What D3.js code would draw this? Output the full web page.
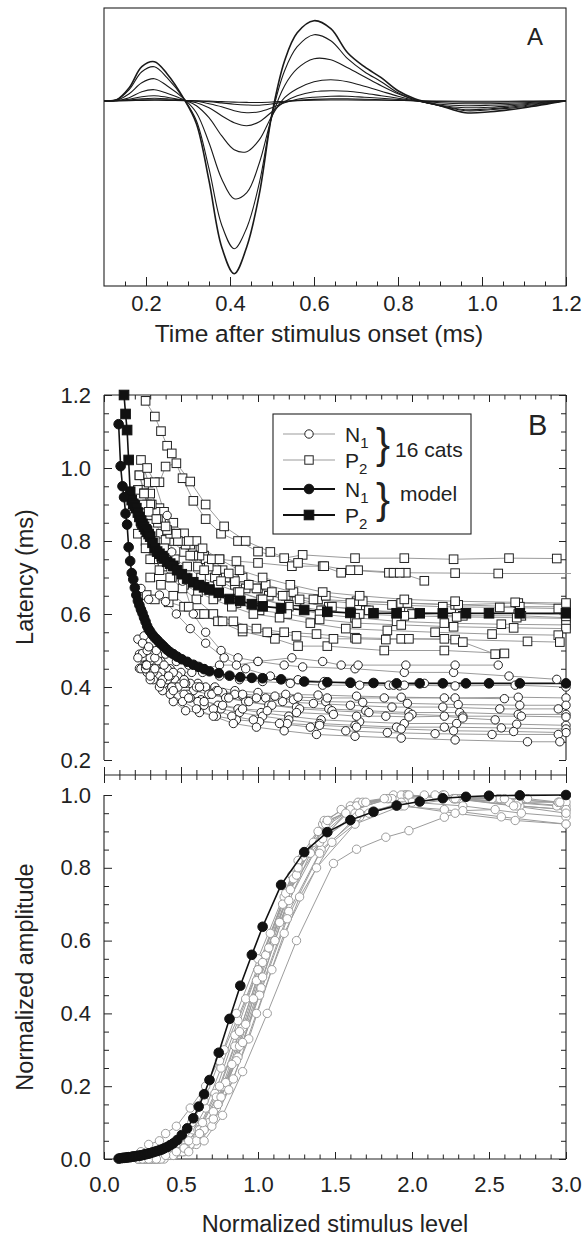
<!DOCTYPE html>
<html>
<head>
<meta charset="utf-8">
<script src="https://cdnjs.cloudflare.com/ajax/libs/d3/7.8.5/d3.min.js"></script>
<style>
  body { margin: 0; background: #fff; }
  svg { display: block; }
  text { font-family: "Liberation Sans", Arial, sans-serif; fill: #222; }
</style>
</head>
<body>
<script>
// ---- panel A: averaged waveforms (amplitude in arbitrary units) ----
var waveTimes = [0.10, 0.13, 0.16, 0.19, 0.22, 0.25, 0.29, 0.32, 0.35, 0.38, 0.41, 0.44, 0.47, 0.50,
                 0.53, 0.56, 0.60, 0.64, 0.68, 0.72, 0.76, 0.80, 0.84, 0.90, 0.96, 1.02, 1.10, 1.20];
var waveTraces = [
  [0, 0.01, 0.13, 0.34, 0.39, 0.27, 0.02, -0.23, -0.80, -1.46, -1.73, -1.46, -0.93, -0.13, 0.40, 0.68, 0.80, 0.72, 0.48, 0.34, 0.23, 0.10, 0.02, -0.05, -0.12, -0.11, -0.07, 0],
  [0, 0.01, 0.11, 0.29, 0.34, 0.23, 0.02, -0.20, -0.68, -1.24, -1.48, -1.27, -0.82, -0.14, 0.30, 0.54, 0.66, 0.60, 0.42, 0.29, 0.19, 0.08, 0.01, -0.05, -0.10, -0.09, -0.06, 0],
  [0, 0.005, 0.07, 0.18, 0.22, 0.15, 0.02, -0.12, -0.42, -0.78, -0.98, -0.92, -0.62, -0.16, 0.15, 0.32, 0.42, 0.41, 0.33, 0.24, 0.15, 0.07, 0.01, -0.05, -0.09, -0.08, -0.05, 0],
  [0, 0, 0.03, 0.09, 0.11, 0.075, 0.01, -0.05, -0.17, -0.35, -0.49, -0.51, -0.39, -0.15, 0.03, 0.12, 0.19, 0.21, 0.19, 0.145, 0.095, 0.045, 0.005, -0.045, -0.07, -0.065, -0.04, 0],
  [0, 0, 0.015, 0.04, 0.05, 0.035, 0.005, -0.02, -0.07, -0.15, -0.22, -0.25, -0.21, -0.11, -0.01, 0.05, 0.09, 0.10, 0.095, 0.075, 0.05, 0.025, 0, -0.035, -0.05, -0.045, -0.03, 0],
  [0, 0, 0.007, 0.02, 0.025, 0.02, 0.005, -0.005, -0.03, -0.06, -0.10, -0.12, -0.11, -0.07, -0.02, 0.015, 0.035, 0.045, 0.045, 0.035, 0.025, 0.012, 0, -0.02, -0.03, -0.03, -0.02, 0],
  [0, 0, 0.003, 0.008, 0.01, 0.008, 0.002, -0.003, -0.01, -0.022, -0.035, -0.043, -0.045, -0.032, -0.012, 0.003, 0.013, 0.018, 0.018, 0.015, 0.01, 0.005, 0, -0.01, -0.015, -0.015, -0.01, 0],
  [0, 0, 0.001, 0.003, 0.004, 0.003, 0.001, -0.001, -0.004, -0.009, -0.014, -0.017, -0.018, -0.013, -0.005, 0.001, 0.005, 0.007, 0.007, 0.006, 0.004, 0.002, 0, -0.004, -0.006, -0.006, -0.004, 0]
];

// ---- panel B: model ----
var modelLevels = [0.095, 0.108, 0.12, 0.13, 0.14, 0.15, 0.16, 0.17, 0.18, 0.19, 0.2, 0.21, 0.22, 0.23, 0.24, 0.25, 0.26, 0.27, 0.28, 0.29,
                   0.3, 0.315, 0.33, 0.345, 0.36, 0.375, 0.39, 0.41, 0.43, 0.45, 0.475, 0.505, 0.54, 0.58, 0.615, 0.65, 0.685, 0.745, 0.815, 0.885,
                   0.96, 1.03, 1.15, 1.3, 1.45, 1.6, 1.75, 1.9, 2.05, 2.2, 2.35, 2.5, 2.7, 3.0];
var modelN1 = [1.12, 1.005, 0.95, 0.92, 0.875, 0.845, 0.783, 0.745, 0.712, 0.695, 0.672, 0.652, 0.636, 0.624, 0.612, 0.602, 0.59, 0.579, 0.567, 0.558,
               0.552, 0.543, 0.535, 0.529, 0.522, 0.516, 0.51, 0.502, 0.495, 0.49, 0.483, 0.476, 0.469, 0.461, 0.455, 0.449, 0.443, 0.438, 0.431, 0.427,
               0.425, 0.424, 0.421, 0.415, 0.413, 0.412, 0.411, 0.41, 0.41, 0.41, 0.41, 0.41, 0.41, 0.41];
var modelP2 = [null, null, null, 1.2, 1.148, 1.104, 1.022, 0.935, 0.912, 0.902, 0.897, 0.89, 0.878, 0.866, 0.856, 0.847, 0.839, 0.832, 0.826, 0.819,
               0.812, 0.795, 0.78, 0.771, 0.765, 0.758, 0.752, 0.743, 0.738, 0.732, 0.72, 0.709, 0.697, 0.687, 0.679, 0.673, 0.667, 0.658, 0.641, 0.636,
               0.627, 0.621, 0.616, 0.611, 0.606, 0.603, 0.602, 0.602, 0.602, 0.602, 0.602, 0.602, 0.602, 0.602];
var modelAmp = [0.001, 0.002, 0.003, 0.003, 0.004, 0.004, 0.005, 0.005, 0.006, 0.007, 0.007, 0.008, 0.009, 0.009, 0.01, 0.011, 0.012, 0.013, 0.014, 0.015,
                0.016, 0.018, 0.02, 0.022, 0.024, 0.026, 0.029, 0.033, 0.038, 0.043, 0.052, 0.066, 0.084, 0.112, 0.144, 0.178, 0.217, 0.292, 0.385, 0.476,
                0.561, 0.638, 0.753, 0.843, 0.898, 0.931, 0.954, 0.971, 0.982, 0.991, 0.995, 0.998, 0.999, 1.0];

// ---- panel B: 16 cats (one row per cat) ----
var catLevels = [
  [0.27, 0.33, 0.37, 0.41, 0.44, 0.51, 0.58, 0.66, 0.76, 0.87, 1.0, 1.17, 1.29, 1.63, 1.95, 2.27, 2.63, 2.94],
  [0.23, 0.26, 0.3, 0.36, 0.43, 0.5, 0.57, 0.65, 0.75, 0.86, 1.0, 1.22, 1.42, 1.54, 1.65, 1.96, 2.28, 2.56, 3.15],
  [0.24, 0.29, 0.36, 0.40, 0.47, 0.56, 0.66, 0.78, 0.92, 1.08, 1.26, 1.43, 1.6, 1.85, 1.88, 1.92, 2.08],
  [0.22, 0.26, 0.31, 0.37, 0.44, 0.52, 0.61, 0.72, 0.85, 1.0, 1.18, 1.39, 1.64, 1.93, 2.28, 2.69, 3.0],
  [0.25, 0.3, 0.35, 0.41, 0.48, 0.56, 0.66, 0.77, 0.9, 1.05, 1.23, 1.44, 1.68, 1.97, 2.3, 2.7, 3.0],
  [0.23, 0.28, 0.34, 0.4, 0.46, 0.53, 0.62, 0.73, 0.85, 0.99, 1.16, 1.36, 1.6, 1.87, 2.2, 2.57, 2.95],
  [0.26, 0.31, 0.37, 0.43, 0.5, 0.58, 0.68, 0.79, 0.92, 1.07, 1.25, 1.46, 1.7, 1.98, 2.31, 2.69, 3.0],
  [0.28, 0.33, 0.39, 0.45, 0.52, 0.6, 0.7, 0.81, 0.94, 1.09, 1.27, 1.48, 1.72, 2.0, 2.33, 2.71, 3.0],
  [0.24, 0.28, 0.33, 0.39, 0.46, 0.54, 0.63, 0.74, 0.87, 1.02, 1.2, 1.41, 1.66, 1.95, 2.29, 2.68, 3.0],
  [0.3, 0.35, 0.41, 0.48, 0.56, 0.65, 0.76, 0.88, 1.03, 1.2, 1.4, 1.63, 1.9, 2.21, 2.58, 3.0],
  [0.22, 0.27, 0.32, 0.38, 0.45, 0.53, 0.62, 0.73, 0.86, 1.01, 1.19, 1.4, 1.64, 1.93, 2.27, 2.66, 3.0],
  [0.27, 0.32, 0.38, 0.44, 0.52, 0.61, 0.71, 0.83, 0.97, 1.14, 1.34, 1.57, 1.84, 2.15, 2.52, 2.95],
  [0.3, 0.36, 0.43, 0.51, 0.6, 0.71, 0.84, 0.99, 1.17, 1.38, 1.63, 1.93, 2.28, 2.75, 2.96],
  [0.277, 0.33, 0.42, 0.52, 0.62, 0.74, 0.9, 1.11, 1.26, 1.45, 1.82, 2.21, 2.6],
  [0.3, 0.37, 0.45, 0.55, 0.65, 0.77, 0.9, 1.06, 1.25, 1.49, 1.64, 1.83, 1.98, 2.21, 2.33, 2.54],
  [0.25, 0.29, 0.34, 0.4, 0.47, 0.55, 0.64, 0.75, 0.88, 1.03, 1.21, 1.42, 1.66, 1.95, 2.28, 2.67, 3.0]
];
var catN1 = [
  [null, null, null, 0.87, 0.77, 0.69, 0.6, 0.55, 0.5, 0.48, 0.47, 0.46, 0.455, 0.45, 0.44, 0.44, 0.43, 0.421],
  [0.49, 0.48, 0.472, 0.465, 0.45, 0.44, 0.44, 0.45, 0.46, 0.46, 0.47, 0.48, 0.47, 0.46, 0.46, 0.46, 0.46, 0.46, null],
  [0.67, 0.64, 0.652, 0.634, 0.6, 0.56, 0.52, 0.48, 0.45, 0.43, 0.42, 0.415, 0.41, 0.405, 0.405, 0.403, 0.41],
  [0.531, 0.54, 0.5, 0.47, 0.44, 0.42, 0.41, 0.4, 0.39, 0.385, 0.38, 0.378, 0.375, 0.372, 0.37, 0.372, 0.37],
  [0.492, 0.48, 0.472, 0.45, 0.43, 0.41, 0.4, 0.385, 0.375, 0.37, 0.365, 0.36, 0.358, 0.355, 0.352, 0.35, 0.35],
  [0.451, 0.45, 0.44, 0.43, 0.42, 0.41, 0.4, 0.39, 0.38, 0.37, 0.36, 0.355, 0.35, 0.345, 0.345, 0.34, 0.34],
  [0.46, 0.45, 0.44, 0.43, 0.41, 0.39, 0.38, 0.37, 0.36, 0.35, 0.345, 0.34, 0.335, 0.33, 0.33, 0.325, 0.325],
  [0.5, 0.48, 0.46, 0.44, 0.42, 0.4, 0.38, 0.37, 0.36, 0.35, 0.34, 0.335, 0.33, 0.325, 0.32, 0.32, 0.318],
  [0.45, 0.44, 0.43, 0.41, 0.4, 0.38, 0.365, 0.35, 0.34, 0.33, 0.32, 0.31, 0.305, 0.3, 0.3, 0.298, 0.295],
  [0.44, 0.43, 0.42, 0.4, 0.37, 0.35, 0.34, 0.33, 0.32, 0.31, 0.3, 0.295, 0.29, 0.29, 0.288, 0.285],
  [0.48, 0.45, 0.42, 0.39, 0.36, 0.335, 0.33, 0.32, 0.31, 0.305, 0.3, 0.295, 0.29, 0.285, 0.28, 0.278, 0.275],
  [0.46, 0.44, 0.42, 0.4, 0.38, 0.36, 0.34, 0.32, 0.31, 0.3, 0.29, 0.28, 0.275, 0.272, 0.27, 0.27],
  [0.42, 0.4, 0.38, 0.36, 0.34, 0.32, 0.3, 0.29, 0.28, 0.27, 0.265, 0.26, 0.255, 0.25, 0.25],
  [0.46, 0.45, 0.43, 0.41, 0.4, 0.39, 0.38, 0.375, 0.372, 0.37, 0.37, 0.37, 0.368],
  [0.43, 0.41, 0.39, 0.37, 0.36, 0.35, 0.34, 0.335, 0.33, 0.325, 0.32, 0.32, 0.318, 0.32, 0.315, 0.31],
  [0.52, 0.51, 0.5, 0.49, 0.47, 0.46, 0.44, 0.43, 0.42, 0.415, 0.41, 0.405, 0.405, 0.405, 0.403, 0.405, 0.4]
];
var catP2 = [
  [1.184, 1.141, 1.101, 1.061, 1.04, 0.972, 0.91, 0.86, 0.82, 0.8, 0.771, 0.753, 0.762, 0.753, 0.753, 0.75, 0.753, 0.752],
  [0.98, 0.94, 0.93, 0.89, 0.82, 0.8, 0.78, 0.76, 0.75, 0.745, 0.74, 0.731, 0.731, 0.713, 0.72, 0.713, 0.712, 0.711, 0.711],
  [1.022, 0.96, 0.961, 1.004, 1.013, 0.963, 0.9, 0.84, 0.8, 0.77, 0.74, 0.731, 0.72, 0.713, 0.713, 0.713, 0.691],
  [0.94, 0.931, 0.87, 0.82, 0.8, 0.77, 0.73, 0.7, 0.68, 0.67, 0.65, 0.64, 0.635, 0.63, 0.625, 0.63, 0.625],
  [0.88, 0.871, 0.85, 0.821, 0.81, 0.79, 0.75, 0.72, 0.7, 0.68, 0.66, 0.65, 0.635, 0.63, 0.625, 0.62, 0.62],
  [0.98, 0.9, 0.88, 0.803, 0.82, 0.79, 0.76, 0.72, 0.69, 0.67, 0.65, 0.64, 0.63, 0.625, 0.62, 0.618, 0.615],
  [0.93, 0.9, 0.86, 0.82, 0.8, 0.76, 0.73, 0.7, 0.67, 0.65, 0.635, 0.62, 0.61, 0.605, 0.6, 0.6, 0.598],
  [1.0, 0.961, 0.88, 0.85, 0.821, 0.8, 0.75, 0.711, 0.68, 0.66, 0.64, 0.62, 0.61, 0.6, 0.595, 0.595, 0.59],
  [0.85, 0.83, 0.8, 0.78, 0.75, 0.73, 0.7, 0.68, 0.66, 0.64, 0.625, 0.61, 0.6, 0.595, 0.592, 0.59, 0.588],
  [0.9, 0.86, 0.83, 0.8, 0.76, 0.72, 0.69, 0.66, 0.64, 0.62, 0.6, 0.59, 0.58, 0.575, 0.572, 0.57],
  [0.82, 0.8, 0.78, 0.76, 0.73, 0.7, 0.68, 0.65, 0.63, 0.61, 0.6, 0.585, 0.575, 0.57, 0.565, 0.562, 0.56],
  [0.78, 0.75, 0.73, 0.7, 0.68, 0.66, 0.64, 0.62, 0.6, 0.59, 0.575, 0.56, 0.555, 0.55, 0.545, 0.542],
  [0.75, 0.72, 0.7, 0.67, 0.64, 0.6, 0.58, 0.56, 0.55, 0.545, 0.535, 0.532, 0.53, 0.525, 0.523],
  [0.652, 0.64, 0.632, 0.62, 0.6, 0.58, 0.552, 0.532, 0.512, 0.512, 0.5, 0.5, 0.492],
  [0.7, 0.68, 0.65, 0.62, 0.6, 0.58, 0.56, 0.55, 0.54, 0.532, 0.532, 0.53, 0.532, 0.532, 0.523, 0.49],
  [0.9, 0.88, 0.86, 0.84, 0.82, 0.8, 0.78, 0.75, 0.72, 0.7, 0.68, 0.66, 0.65, 0.64, 0.635, 0.632, 0.63]
];
var catAmp = [
  [0.01, 0.01, 0.02, 0.02, 0.03, 0.05, 0.08, 0.14, 0.25, 0.38, 0.52, 0.72, 0.83, 0.97, 1.0, 0.99, 0.98, 0.97],
  [0, 0.01, 0.01, 0.02, 0.04, 0.06, 0.1, 0.16, 0.27, 0.4, 0.55, 0.78, 0.92, 0.96, 0.98, 1.0, 0.99, 0.99, null],
  [0.02, 0.04, 0.05, 0.07, 0.09, 0.14, 0.2, 0.3, 0.44, 0.62, 0.82, 0.93, 0.97, 0.99, 1.0, 0.99, 1.0],
  [0, 0, 0.01, 0.01, 0.02, 0.04, 0.08, 0.18, 0.34, 0.52, 0.73, 0.9, 0.97, 1.0, 0.99, 0.98, 0.97],
  [0, 0, 0.01, 0.01, 0.02, 0.04, 0.09, 0.2, 0.36, 0.56, 0.77, 0.92, 0.98, 1.0, 0.99, 0.97, 0.96],
  [0, 0, 0, 0.01, 0.02, 0.04, 0.08, 0.17, 0.31, 0.49, 0.7, 0.87, 0.96, 0.99, 1.0, 0.99, 0.98],
  [0, 0, 0.01, 0.01, 0.02, 0.05, 0.1, 0.21, 0.37, 0.58, 0.78, 0.93, 0.98, 1.0, 0.99, 0.98, 0.98],
  [0, 0, 0, 0.01, 0.02, 0.04, 0.09, 0.19, 0.33, 0.52, 0.72, 0.87, 0.95, 0.98, 0.97, 0.95, 0.94],
  [0, 0, 0, 0.01, 0.02, 0.03, 0.07, 0.15, 0.28, 0.47, 0.68, 0.85, 0.94, 0.98, 0.99, 0.97, 0.96],
  [0, 0, 0.01, 0.02, 0.04, 0.08, 0.17, 0.31, 0.5, 0.71, 0.87, 0.95, 0.97, 0.96, 0.94, 0.92],
  [0, 0, 0, 0.01, 0.01, 0.03, 0.07, 0.14, 0.27, 0.45, 0.66, 0.84, 0.94, 0.98, 0.99, 0.97, 0.95],
  [0, 0, 0.01, 0.01, 0.03, 0.06, 0.13, 0.26, 0.44, 0.65, 0.84, 0.95, 0.99, 1.0, 0.99, 0.98],
  [0, 0, 0.01, 0.02, 0.05, 0.11, 0.22, 0.4, 0.62, 0.8, 0.92, 0.97, 0.99, 0.99, 0.98],
  [0, 0, 0.01, 0.03, 0.07, 0.15, 0.32, 0.6, 0.8, 0.93, 0.99, 1.0, 0.99],
  [0, 0, 0.01, 0.02, 0.05, 0.12, 0.24, 0.4, 0.6, 0.812, 0.851, 0.884, 0.902, 0.939, 0.957, 0.96],
  [0, 0, 0, 0.01, 0.02, 0.05, 0.1, 0.2, 0.35, 0.54, 0.74, 0.88, 0.95, 0.97, 0.95, 0.93, 0.92]
];

var timeTicks = [0.2, 0.4, 0.6, 0.8, 1.0, 1.2];
var levelTicks = [0, 0.5, 1.0, 1.5, 2.0, 2.5, 3.0];
var latencyTicks = [0.2, 0.4, 0.6, 0.8, 1.0, 1.2];
var ampTicks = [0, 0.2, 0.4, 0.6, 0.8, 1.0];

var legendRows = [
  { peak: 'N', sub: '1', shape: 'circle', model: false },
  { peak: 'P', sub: '2', shape: 'square', model: false },
  { peak: 'N', sub: '1', shape: 'circle', model: true },
  { peak: 'P', sub: '2', shape: 'square', model: true }
];

var width = 582, height = 1239;
var ink = '#222', gray = '#8f8f8f', lightGray = '#9c9c9c';
var left = 104, right = 566;
var tickFont = 22;

var svg = d3.select('body').append('svg').attr('width', width).attr('height', height);

// scales
var xA = d3.scaleLinear().domain([0.1, 1.2]).range([left, right]);
var yA = d3.scaleLinear().domain([-1.853, 0.927]).range([286, 8]);
var x = d3.scaleLinear().domain([0, 3]).range([left, right]);
var yLat = d3.scaleLinear().domain([0.2, 1.2]).range([760, 395]);
var yAmp = d3.scaleLinear().domain([0, 1]).range([1159, 795]);

function styleAxis(g) {
  g.attr('font-family', null).attr('font-size', null).attr('color', ink);
  g.selectAll('.tick line').attr('stroke-width', 1);
  g.selectAll('text').style('font-size', tickFont + 'px');
  g.select('.domain').remove();
}
function hline(y, x1, x2) {
  svg.append('line').attr('x1', x1).attr('x2', x2).attr('y1', y).attr('y2', y).attr('stroke', ink).attr('stroke-width', 1.1);
}
function vline(xx, y1, y2) {
  svg.append('line').attr('x1', xx).attr('x2', xx).attr('y1', y1).attr('y2', y2).attr('stroke', ink).attr('stroke-width', 1.1);
}

// =============== panel A ===============
svg.append('rect').attr('x', left).attr('y', 8).attr('width', right - left).attr('height', 278)
  .attr('fill', 'none').attr('stroke', ink).attr('stroke-width', 1.1);

svg.append('g').attr('transform', 'translate(0,286)')
  .call(d3.axisBottom(xA).tickValues(d3.range(0.15, 1.2, 0.05)).tickSize(-4.5).tickFormat(''))
  .call(styleAxis);
svg.append('g').attr('transform', 'translate(0,286)')
  .call(d3.axisBottom(xA).tickValues(timeTicks).tickSize(-9).tickPadding(9).tickFormat(d3.format('.1f')))
  .call(styleAxis);

var waveLine = d3.line()
  .x(function(d, i) { return xA(waveTimes[i]); })
  .y(function(d) { return yA(d); })
  .curve(d3.curveCatmullRom.alpha(0.5));

svg.append('g').selectAll('path').data(waveTraces).join('path')
  .attr('d', waveLine)
  .attr('fill', 'none')
  .attr('stroke', '#1a1a1a')
  .attr('stroke-width', function(d, i) { return i === 0 ? 1.6 : 1.1; });

svg.append('text').attr('x', 527).attr('y', 45).style('font-size', '24px').text('A');
svg.append('text').attr('x', 319).attr('y', 342).attr('text-anchor', 'middle')
  .style('font-size', '24.5px').text('Time after stimulus onset (ms)');

// =============== panel B frame & axes ===============
vline(left, 395, 760); vline(right, 395, 760);
hline(395, left, right);
vline(left, 795, 1159); vline(right, 795, 1159);
hline(1159, left, right);
hline(775, left, right);

var minorLevels = d3.range(0.1, 3.0, 0.1);
// top of latency panel
svg.append('g').attr('transform', 'translate(0,395)')
  .call(d3.axisTop(x).tickValues(minorLevels).tickSize(-4.5).tickFormat(''))
  .call(styleAxis);
svg.append('g').attr('transform', 'translate(0,395)')
  .call(d3.axisTop(x).tickValues(levelTicks).tickSize(-7).tickFormat(''))
  .call(styleAxis);
// middle axis, ticks crossing
[d3.axisTop, d3.axisBottom].forEach(function(ax) {
  svg.append('g').attr('transform', 'translate(0,775)')
    .call(ax(x).tickValues(minorLevels).tickSize(5).tickFormat(''))
    .call(styleAxis);
  svg.append('g').attr('transform', 'translate(0,775)')
    .call(ax(x).tickValues(levelTicks).tickSize(8).tickFormat(''))
    .call(styleAxis);
});
// bottom axis
svg.append('g').attr('transform', 'translate(0,1159)')
  .call(d3.axisBottom(x).tickValues(minorLevels).tickSize(-4.5).tickFormat(''))
  .call(styleAxis);
svg.append('g').attr('transform', 'translate(0,1159)')
  .call(d3.axisBottom(x).tickValues(levelTicks).tickSize(-7).tickPadding(17).tickFormat(d3.format('.1f')))
  .call(styleAxis);

// vertical axes
function yAxes(scale, lo, hi, majors) {
  var minors = d3.range(lo, hi + 0.001, 0.05).filter(function(v) {
    return !majors.some(function(m) { return Math.abs(m - v) < 1e-6; });
  });
  svg.append('g').attr('transform', 'translate(' + left + ',0)')
    .call(d3.axisLeft(scale).tickValues(minors).tickSize(-5).tickFormat(''))
    .call(styleAxis);
  svg.append('g').attr('transform', 'translate(' + left + ',0)')
    .call(d3.axisLeft(scale).tickValues(majors).tickSize(-8).tickPadding(13).tickFormat(d3.format('.1f')))
    .call(styleAxis);
  svg.append('g').attr('transform', 'translate(' + right + ',0)')
    .call(d3.axisRight(scale).tickValues(minors).tickSize(-5).tickFormat(''))
    .call(styleAxis);
  svg.append('g').attr('transform', 'translate(' + right + ',0)')
    .call(d3.axisRight(scale).tickValues(majors).tickSize(-7).tickFormat(''))
    .call(styleAxis);
}
yAxes(yLat, 0.2, 1.2, latencyTicks);
yAxes(yAmp, 0, 1, ampTicks);

// clip paths
var defs = svg.append('defs');
defs.append('clipPath').attr('id', 'clipLat').append('rect')
  .attr('x', 90).attr('y', 385).attr('width', 481).attr('height', 385);
defs.append('clipPath').attr('id', 'clipAmp').append('rect')
  .attr('x', 90).attr('y', 785).attr('width', 481).attr('height', 385);

function pairs(xs, ys) {
  return xs.map(function(v, i) { return [v, ys[i]]; }).filter(function(p) { return p[1] != null; });
}
function drawMarkers(g, pts, shape, yScale, opt) {
  if (shape === 'circle') {
    g.selectAll(null).data(pts).join('circle')
      .attr('cx', function(d) { return x(d[0]); })
      .attr('cy', function(d) { return yScale(d[1]); })
      .attr('r', opt.r)
      .attr('fill', opt.fill).attr('stroke', opt.stroke).attr('stroke-width', 1);
  } else {
    g.selectAll(null).data(pts).join('rect')
      .attr('x', function(d) { return x(d[0]) - opt.r; })
      .attr('y', function(d) { return yScale(d[1]) - opt.r; })
      .attr('width', opt.r * 2).attr('height', opt.r * 2)
      .attr('fill', opt.fill).attr('stroke', opt.stroke).attr('stroke-width', 1);
  }
}

// =============== latency panel ===============
var gLat = svg.append('g').attr('clip-path', 'url(#clipLat)');
var latLine = d3.line().x(function(d) { return x(d[0]); }).y(function(d) { return yLat(d[1]); });

var catN1Pts = catLevels.map(function(lv, i) { return pairs(lv, catN1[i]); });
var catP2Pts = catLevels.map(function(lv, i) { return pairs(lv, catP2[i]); });
var modelN1Pts = pairs(modelLevels, modelN1);
var modelP2Pts = pairs(modelLevels, modelP2);

gLat.append('g').selectAll('path').data(catN1Pts.concat(catP2Pts)).join('path')
  .attr('d', latLine).attr('fill', 'none').attr('stroke', gray).attr('stroke-width', 0.9);
gLat.append('g').selectAll('path').data([modelN1Pts, modelP2Pts]).join('path')
  .attr('d', latLine).attr('fill', 'none').attr('stroke', '#111').attr('stroke-width', 1.6);
catP2Pts.forEach(function(pts) {
  drawMarkers(gLat.append('g'), pts, 'square', yLat, { r: 4.3, fill: '#fff', stroke: ink });
});
catN1Pts.forEach(function(pts) {
  drawMarkers(gLat.append('g'), pts, 'circle', yLat, { r: 4.2, fill: '#fff', stroke: ink });
});
drawMarkers(gLat.append('g'), modelP2Pts, 'square', yLat, { r: 4.8, fill: '#111', stroke: '#111' });
drawMarkers(gLat.append('g'), modelN1Pts, 'circle', yLat, { r: 4.8, fill: '#111', stroke: '#111' });

// =============== amplitude panel ===============
var gAmp = svg.append('g').attr('clip-path', 'url(#clipAmp)');
var ampLine = d3.line().x(function(d) { return x(d[0]); }).y(function(d) { return yAmp(d[1]); });
var catAmpPts = catLevels.map(function(lv, i) { return pairs(lv, catAmp[i]); });
var modelAmpPts = pairs(modelLevels, modelAmp);

gAmp.append('g').selectAll('path').data(catAmpPts).join('path')
  .attr('d', ampLine).attr('fill', 'none').attr('stroke', lightGray).attr('stroke-width', 1);
catAmpPts.forEach(function(pts) {
  drawMarkers(gAmp.append('g'), pts, 'circle', yAmp, { r: 4.2, fill: '#fff', stroke: lightGray });
});
gAmp.append('path').datum(modelAmpPts).attr('d', ampLine)
  .attr('fill', 'none').attr('stroke', '#111').attr('stroke-width', 1.6);
drawMarkers(gAmp.append('g'), modelAmpPts, 'circle', yAmp, { r: 4.8, fill: '#111', stroke: '#111' });

// =============== legend ===============
var lg = svg.append('g');
lg.append('rect').attr('x', 273).attr('y', 414).attr('width', 198).attr('height', 120)
  .attr('fill', '#fff').attr('stroke', ink).attr('stroke-width', 1.1);
var rowY = [434, 460, 489, 515];
legendRows.forEach(function(r, i) {
  var y = rowY[i];
  lg.append('line').attr('x1', 283).attr('x2', 335).attr('y1', y).attr('y2', y)
    .attr('stroke', r.model ? '#111' : lightGray).attr('stroke-width', r.model ? 1.8 : 1.1);
  var opt = r.model ? { r: 4.8, fill: '#111', stroke: '#111' } : { r: 4.2, fill: '#fff', stroke: ink };
  if (r.shape === 'circle') {
    lg.append('circle').attr('cx', 309).attr('cy', y).attr('r', opt.r)
      .attr('fill', opt.fill).attr('stroke', opt.stroke);
  } else {
    lg.append('rect').attr('x', 309 - opt.r).attr('y', y - opt.r).attr('width', opt.r * 2).attr('height', opt.r * 2)
      .attr('fill', opt.fill).attr('stroke', opt.stroke);
  }
  var t = lg.append('text').attr('x', 345).attr('y', y + 7.5).style('font-size', '21px');
  t.append('tspan').text(r.peak);
  t.append('tspan').attr('dy', 6).style('font-size', '15px').text(r.sub);
});
lg.append('text').attr('x', 376).attr('y', 458).style('font-size', '42px').text('}');
lg.append('text').attr('x', 395).attr('y', 456.5).style('font-size', '21px').text('16 cats');
lg.append('text').attr('x', 376).attr('y', 513).style('font-size', '42px').text('}');
lg.append('text').attr('x', 400).attr('y', 501).style('font-size', '21px').text('model');

svg.append('text').attr('x', 528).attr('y', 435).style('font-size', '29px').text('B');

// axis titles
svg.append('text').attr('transform', 'translate(33,577) rotate(-90)').attr('text-anchor', 'middle')
  .style('font-size', '23.5px').text('Latency (ms)');
svg.append('text').attr('transform', 'translate(33,977) rotate(-90)').attr('text-anchor', 'middle')
  .style('font-size', '23.5px').text('Normalized amplitude');
svg.append('text').attr('x', 335).attr('y', 1232).attr('text-anchor', 'middle')
  .style('font-size', '23.5px').text('Normalized stimulus level');
</script>
</body>
</html>
